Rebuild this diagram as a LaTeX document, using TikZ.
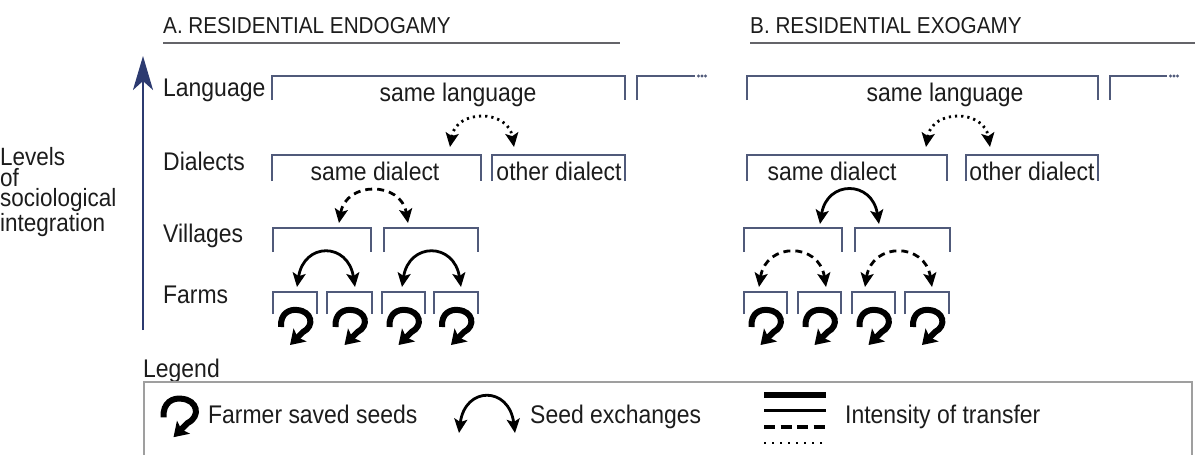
\documentclass[tikz,border=0pt]{standalone}
\usepackage{fontspec}
\setmainfont{Liberation Sans}[FakeStretch=0.9]
\usetikzlibrary{arrows.meta}
\definecolor{brk}{RGB}{80,90,122}
\definecolor{navy}{RGB}{44,58,112}
\definecolor{ttlline}{RGB}{100,100,105}
\definecolor{txt}{RGB}{28,28,28}
\newcommand\mybrk[4]{\draw[bracket] (#1,#4) -- (#1,#3) -- (#2,#3) -- (#2,#4);}
\begin{document}
\begin{tikzpicture}[x=1pt,y=-1pt,
  lbl/.style={anchor=base west,inner sep=0pt,font=\fontsize{25.5}{25.5}\selectfont,text=txt},
  ctr/.style={anchor=base,inner sep=0pt,font=\fontsize{25.5}{25.5}\selectfont,text=txt},
  ttl/.style={anchor=base west,inner sep=0pt,font=\fontsize{23}{23}\selectfont,text=txt},
  bracket/.style={draw=brk,line width=1.8pt},
  exch/.style={line width=2.8pt,{Stealth[length=14pt,width=13pt,inset=3pt]}-{Stealth[length=14pt,width=13pt,inset=3pt]}},
  solidx/.style={exch},
  dashx/.style={exch,dash pattern=on 7pt off 5pt},
  dotx/.style={exch,line width=2.8pt,dash pattern=on 2.2pt off 4pt},
  curl/.pic={\draw[line width=6pt,-{Stealth[length=14pt,width=18pt,inset=3pt]}]
     (-14,4) .. controls (-15,-10) and (-5,-14) .. (2,-13)
     .. controls (17,-12) and (20,3) .. (8,9) -- (-5,22);}
]
\useasboundingbox (0,0) rectangle (1195,455);

% titles
\node[ttl] (tA) at (163,34) {A. RESIDENTIAL ENDOGAMY};
\node[ttl] (tB) at (750,34) {B. RESIDENTIAL EXOGAMY};
\draw[ttlline,line width=1.8pt] (163,43) -- (620,43);
\draw[ttlline,line width=1.8pt] (750,43) -- (1195,43);

% axis
\coordinate (axb) at (143,330);
\coordinate (axt) at (143,56);
\draw[navy,line width=2.5pt,-{Stealth[length=34pt,width=20pt,inset=9pt]}] (axb) -- (axt);
\node[anchor=base west,inner sep=0pt,align=left,text=txt,
      font=\fontsize{25}{20.5}\selectfont] (levels) at (0,231)
      {Levels\\of\\sociological\\integration};

% level labels
\node[lbl] (lLang) at (163,96) {Language};
\node[lbl] (lDial) at (163,170) {Dialects};
\node[lbl] (lVill) at (163,242) {Villages};
\node[lbl] (lFarm) at (163,303) {Farms};

% ---------- Panel A ----------
\mybrk{272}{625}{76}{100}
\draw[bracket] (637,100) -- (637,76) -- (695,76);
\fill[brk] (698.5,76) circle (1.6) (702,76) circle (1.6) (705.5,76) circle (1.6);
\node[ctr] (aLang) at (458,101) {same language};
\mybrk{272}{481}{155}{181}
\mybrk{492}{625}{155}{181}
\node[ctr] (aSD) at (375,180) {same dialect};
\node[ctr] (aOD) at (559,180) {other dialect};
\mybrk{273}{371}{228}{252}
\mybrk{384}{478}{228}{252}
\mybrk{273}{317}{292}{314}
\mybrk{327}{372}{292}{314}
\mybrk{382}{425}{292}{314}
\mybrk{434}{478}{292}{314}

\coordinate (aL1) at (450,147); \coordinate (aL2) at (514,147);
\draw[dotx] (aL1) .. controls +(6,-38) and +(-6,-38) .. (aL2);
\coordinate (aD1) at (339,223); \coordinate (aD2) at (408,223);
\draw[dashx] (aD1) .. controls +(7,-42) and +(-7,-42) .. (aD2);
\coordinate (aV1) at (297,287); \coordinate (aV2) at (355,287);
\draw[solidx] (aV1) .. controls +(7,-45) and +(-7,-45) .. (aV2);
\coordinate (aV3) at (402,287); \coordinate (aV4) at (461,287);
\draw[solidx] (aV3) .. controls +(7,-45) and +(-7,-45) .. (aV4);

\pic at (295,323) {curl};
\pic at (349.5,323) {curl};
\pic at (403.5,323) {curl};
\pic at (456,323) {curl};

% ---------- Panel B ----------
\mybrk{747}{1098}{76}{100}
\draw[bracket] (1110,100) -- (1110,76) -- (1167,76);
\fill[brk] (1170.5,76) circle (1.6) (1174,76) circle (1.6) (1177.5,76) circle (1.6);
\node[ctr] (bLang) at (945,101) {same language};
\mybrk{747}{947}{155}{181}
\mybrk{966}{1098}{155}{181}
\node[ctr] (bSD) at (832,180) {same dialect};
\node[ctr] (bOD) at (1032,180) {other dialect};
\mybrk{744}{842}{228}{252}
\mybrk{855}{950}{228}{252}
\mybrk{744}{787}{292}{314}
\mybrk{798}{841}{292}{314}
\mybrk{852}{895}{292}{314}
\mybrk{905}{949}{292}{314}

\coordinate (bL1) at (926,147); \coordinate (bL2) at (990,147);
\draw[dotx] (bL1) .. controls +(6,-38) and +(-6,-38) .. (bL2);
\coordinate (bD1) at (820,224); \coordinate (bD2) at (879,224);
\draw[solidx] (bD1) .. controls +(7,-44) and +(-7,-44) .. (bD2);
\coordinate (bV1) at (759,287); \coordinate (bV2) at (826,287);
\draw[dashx] (bV1) .. controls +(7,-45) and +(-7,-45) .. (bV2);
\coordinate (bV3) at (865,287); \coordinate (bV4) at (932,287);
\draw[dashx] (bV3) .. controls +(7,-45) and +(-7,-45) .. (bV4);

\pic at (765.5,323) {curl};
\pic at (819.5,323) {curl};
\pic at (873.5,323) {curl};
\pic at (927,323) {curl};

% ---------- Legend ----------
\node[lbl] (leg) at (143,377) {Legend};
\draw[gray!75,line width=1.5pt] (144,455) -- (144,382) -- (1192,382) -- (1192,455);
\pic[scale=1.1] at (179,413) {curl};
\node[lbl] (lgFS) at (208,423) {Farmer saved seeds};
\coordinate (lgE1) at (459,433); \coordinate (lgE2) at (515,433);
\draw[solidx] (lgE1) .. controls +(6,-47) and +(-6,-47) .. (lgE2);
\node[lbl] (lgSE) at (530,423) {Seed exchanges};
\draw[line width=6pt] (764,395) -- (826,395);
\draw[line width=3pt] (764,410) -- (826,410);
\draw[line width=3.5pt,dash pattern=on 11pt off 5.5pt] (764,427) -- (826,427);
\draw[line width=2pt,dash pattern=on 2pt off 6pt] (764,443) -- (826,443);
\node[lbl] (lgIT) at (845,423) {Intensity of transfer};
\end{tikzpicture}
\end{document}
